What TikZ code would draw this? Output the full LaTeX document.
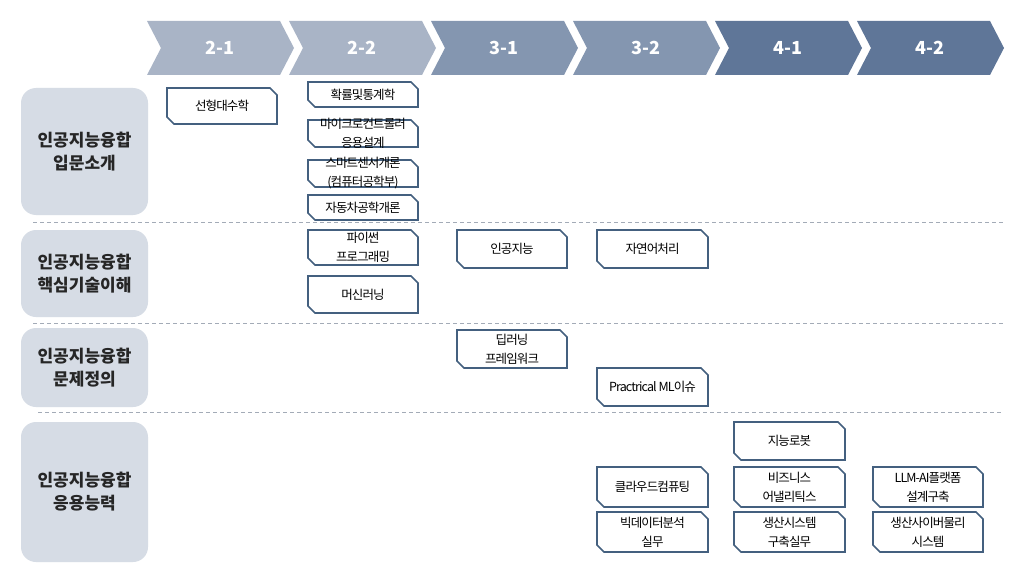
\documentclass[tikz,border=0pt]{standalone}
\usepackage{fontspec}
\setmainfont{Noto Sans CJK KR}
\newfontfamily\kr{Noto Sans CJK KR}
\newfontfamily\krtight[LetterSpace=-7]{Noto Sans CJK KR}
\usetikzlibrary{calc}
\definecolor{chevA}{HTML}{A9B4C6}
\definecolor{chevB}{HTML}{8496B0}
\definecolor{chevC}{HTML}{5F7698}
\definecolor{catfill}{HTML}{D6DCE5}
\definecolor{boxline}{HTML}{44607F}
\definecolor{dashcol}{HTML}{A3ABB7}
\tikzset{
  chevtext/.style={text=white, font=\kr\bfseries\fontsize{18}{20}\selectfont, inner sep=0pt},
  catbox/.style={fill=catfill, rounded corners=15pt, draw=none, align=center,
    font=\kr\bfseries\fontsize{17}{23}\selectfont, text=black!85, inner sep=0pt},
  coursetext/.style={draw=none, align=center, inner sep=0pt,
    font=\krtight\fontsize{12.5}{19}\selectfont, text=black},
  courseline/.style={draw=boxline, line width=1.6pt, fill=white, line join=miter},
  sep/.style={draw=dashcol, line width=1pt, dash pattern=on 4pt off 3pt},
}
\newcommand\chev[4]{% name, x0, colour, label
  \fill[#3] (#2,21) -- ++(133,0) -- ++(14,27) -- ++(-14,27) -- ++(-133,0) -- ++(14,-27) -- cycle;
  \node[chevtext] (#1) at ({#2+73},48) {#4};
}
\newcommand\course[6]{% name, cx, cy, w, h, text
  \path[courseline] ({#2-#4/2},{#3-#5/2}) -- ({#2+#4/2-7},{#3-#5/2}) -- ({#2+#4/2},{#3-#5/2+7})
     -- ({#2+#4/2},{#3+#5/2}) -- ({#2-#4/2+7},{#3+#5/2}) -- ({#2-#4/2},{#3+#5/2-7}) -- cycle;
  \node[coursetext, minimum width=#4, minimum height=#5] (#1) at (#2,#3) {#6};
}
\begin{document}
\begin{tikzpicture}[x=1pt,y=-1pt]
\useasboundingbox (0,0) rectangle (1011,575);
\fill[white] (0,0) rectangle (1011,575);
% chevrons
\chev{s21}{147}{chevA}{2-1}
\chev{s22}{289}{chevA}{2-2}
\chev{s31}{431}{chevB}{3-1}
\chev{s32}{573}{chevB}{3-2}
\chev{s41}{715}{chevC}{4-1}
\chev{s42}{857}{chevC}{4-2}
% separators
\draw[sep] (33,222) -- (1003,222);
\draw[sep] (33,323) -- (1003,323);
\draw[sep] (38,412) -- (1003,412);
% categories
\node[catbox, minimum width=127, minimum height=127] (cat1) at (84.5,151.5) {인공지능융합\\입문소개};
\node[catbox, minimum width=127, minimum height=87] (cat2) at (84.5,273.5) {인공지능융합\\핵심기술이해};
\node[catbox, minimum width=127, minimum height=79] (cat3) at (84.5,367.5) {인공지능융합\\문제정의};
\node[catbox, minimum width=127, minimum height=140] (cat4) at (84.5,492) {인공지능융합\\응용능력};
% courses
\course{linalg}{222}{106}{110}{36}{선형대수학}
\course{prob}{363}{94.5}{110}{25}{확률및통계학}
\course{mcu}{363}{133.5}{110}{27}{마이크로컨트롤러\\응용설계}
\course{sensor}{363}{173.5}{110}{27}{스마트센서개론\\(컴퓨터공학부)}
\course{auto}{363}{207.5}{110}{25}{자동차공학개론}
\course{python}{363}{247.5}{110}{35}{파이썬\\프로그래밍}
\course{ml}{363}{294.5}{110}{37}{머신러닝}
\course{ai}{512}{249}{110}{38}{인공지능}
\course{dl}{512}{349}{110}{38}{딥러닝\\프레임워크}
\course{nlp}{652.5}{249}{111}{38}{자연어처리}
\course{pml}{652.5}{387}{111}{38}{Practrical ML이슈}
\course{robot}{789.5}{441}{111}{38}{지능로봇}
\course{cloud}{652.5}{487}{111}{40}{클라우드컴퓨팅}
\course{biz}{789.5}{487}{111}{40}{비즈니스\\어낼리틱스}
\course{llm}{928}{487}{110}{40}{LLM-AI플랫폼\\설계구축}
\course{bigdata}{652.5}{532}{111}{40}{빅데이터분석\\실무}
\course{prodsys}{789.5}{532}{111}{40}{생산시스템\\구축실무}
\course{cps}{928}{532}{110}{40}{생산사이버물리\\시스템}
\end{tikzpicture}
\end{document}
